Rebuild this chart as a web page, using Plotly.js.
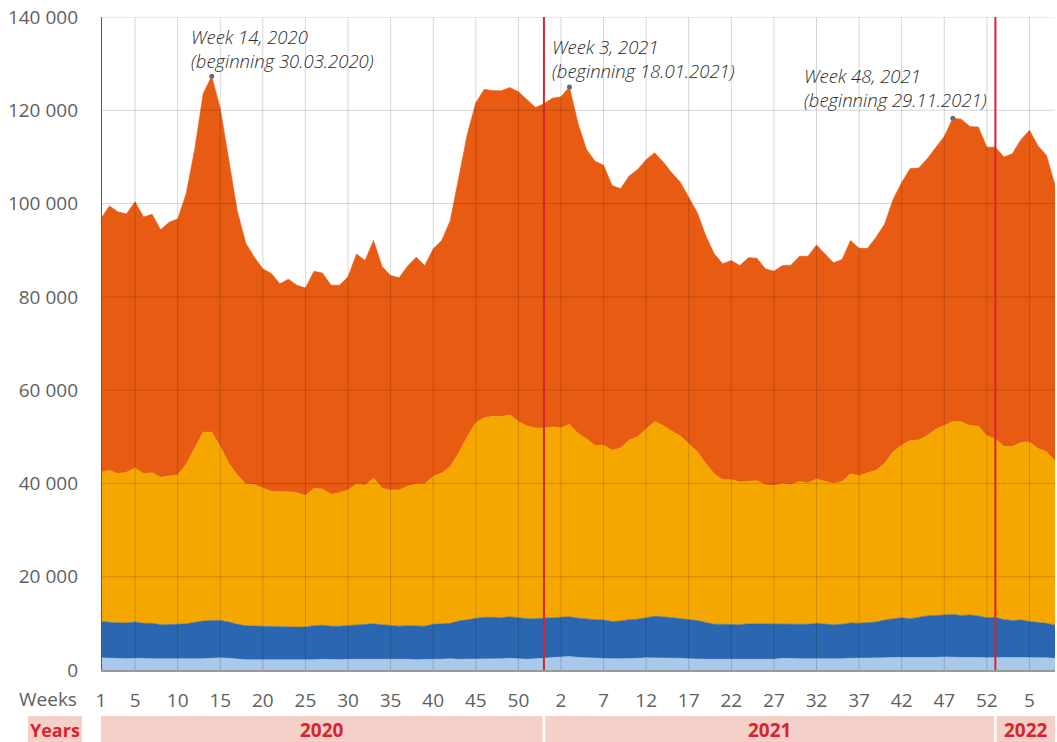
<!DOCTYPE html>
<html>
<head>
<meta charset="utf-8">
<script src="https://cdn.plot.ly/plotly-3.0.1.min.js"></script>
<style>
  html, body { margin: 0; padding: 0; background: #fff; }
  #chart { width: 1057px; height: 742px; }
</style>
</head>
<body>
<div id="chart"></div>
<script>
// ---- Data ----
const years = ["2020", "2021", "2022"];
const yearWeekCounts = [53, 52, 8];
// red year-start marker positions (index of week on the axis)
const yearMarkerIdx = [0, 52, 105];

// Stack boundaries (cumulative tops of each layer)
const lightBlueTop = [
  2600,2500,2400,2400,2500,2400,2400,2400,2400,2400,2400,2300,2400,2500,2600,2500,2300,2200,2200,2200,
  2100,2200,2100,2200,2200,2200,2300,2200,2200,2300,2300,2300,2400,2300,2300,2300,2300,2200,2300,2300,
  2300,2400,2300,2300,2300,2300,2300,2400,2500,2400,2300,2400,2500,
  2600,2800,2900,2700,2600,2500,2400,2400,2400,2400,2500,2600,2600,2500,2500,2500,2400,2300,2300,2300,
  2300,2300,2300,2400,2400,2400,2300,2500,2400,2400,2400,2400,2300,2400,2400,2500,2500,2500,2600,2600,
  2700,2700,2600,2600,2600,2700,2800,2700,2700,2700,2600,2600,
  2700,2700,2700,2600,2600,2600,2600,2500
];
const blueTop = [
  10400,10200,10100,10100,10300,10000,10000,9700,9700,9800,9900,10200,10500,10600,10600,10300,9800,9500,9400,9400,
  9300,9300,9200,9200,9200,9500,9600,9400,9400,9500,9700,9700,9900,9700,9500,9400,9500,9500,9400,9800,
  9900,10000,10500,10800,11000,11300,11300,11200,11400,11200,11000,11000,11100,
  11200,11300,11400,11100,10900,10800,10700,10400,10500,10800,10900,11200,11500,11400,11200,11100,10900,10600,10200,9800,
  9800,9700,9700,9900,9900,9800,9800,9800,9900,9800,9800,10000,9800,9700,9800,10100,10000,10200,10300,10700,
  11000,11200,11000,11300,11600,11700,11800,11900,11700,11800,11600,11200,
  11300,10800,10600,10700,10400,10200,10000,9600
];
const yellowTop = [
  42400,42800,42100,42400,43300,42100,42300,41300,41600,41800,44100,47500,51000,51000,47900,44300,41800,39900,39700,39000,
  38300,38200,38200,38000,37400,38900,38800,37700,38000,38600,39900,39600,41100,39000,38500,38600,39400,39900,39900,41500,
  42200,43600,46600,50000,53000,54100,54400,54300,54700,53300,52300,51900,51900,
  52100,51900,52700,50700,49600,48100,48200,47100,47600,49300,50000,51700,53300,52400,51200,50200,48600,46800,44300,42000,
  40800,40800,40300,40400,40600,39700,39500,40000,39700,40400,40100,40900,40400,40000,40400,42100,41600,42300,42800,44300,
  46800,48200,49200,49300,50300,51600,52400,53300,53200,52400,52300,50200,
  49600,47900,47900,48800,48900,47500,46800,44800
];
const total = [
  96800,99500,98200,97800,100400,97100,97700,94400,96000,96700,102100,111600,123600,127300,120400,109400,98400,91500,88500,86000,
  85000,82800,83800,82500,81900,85500,85100,82500,82500,84300,89200,87800,92100,86500,84600,84100,86600,88500,86700,90300,
  92100,96300,105500,114800,121600,124500,124200,124200,124900,124000,122300,120600,121400,
  122600,122900,125000,117200,111600,109100,108200,103900,103200,105900,107300,109400,110900,108900,106600,104600,101300,98100,93100,89200,
  87100,87800,86700,88400,88300,86000,85500,86700,86800,88700,88700,91100,89200,87300,88000,92100,90400,90400,92800,95600,
  100900,104500,107500,107600,109600,112100,114400,118300,118100,116500,116400,112100,
  112100,110000,110700,113700,115700,112400,110300,104000
];

// Tick labels (week numbers shown on the axis)
const tickWeeks = [
  ["2020", [1,5,10,15,20,25,30,35,40,45,50]],
  ["2021", [2,7,12,17,22,27,32,37,42,47,52]],
  ["2022", [5]]
];
const yTicks = [0,20000,40000,60000,80000,100000,120000,140000];

// Annotated peaks
const annoYear = ["2020", "2021", "2021"];
const annoWeek = [14, 3, 48];
const annoText = [
  "Week 14, 2020<br>(beginning 30.03.2020)",
  "Week 3, 2021<br>(beginning 18.01.2021)",
  "Week 48, 2021<br>(beginning 29.11.2021)"
];

// ---- Build axis positions ----
const yearOffset = {};
let acc = 0;
years.forEach((y, k) => { yearOffset[y] = acc; acc += yearWeekCounts[k]; });
const nPts = acc;
const xs = [];
const weekLabel = [];
years.forEach((y, k) => {
  for (let w = 1; w <= yearWeekCounts[k]; w++) { xs.push(yearOffset[y] + w - 1); weekLabel.push(y + " W" + w); }
});
const tickvals = [], ticktext = [];
tickWeeks.forEach(([y, ws]) => ws.forEach(w => { tickvals.push(yearOffset[y] + w - 1); ticktext.push(String(w)); }));

// ---- Colours / styles ----
const C_LB = "#a9c8ea", C_B = "#2a67b0", C_Y = "#f5a700", C_O = "#e85b13";
const FONT = "Open Sans, Liberation Sans, Arial, sans-serif";
const RED = "#d62430", PINK = "#f5d0c8";

function area(y, color, fill, name) {
  return { x: xs, y: y, type: "scatter", mode: "lines", name: name, text: weekLabel,
           line: { width: 0.6, color: color, shape: "linear" }, fill: fill, fillcolor: color, hoverinfo: "skip" };
}
const traces = [
  area(lightBlueTop, C_LB, "tozeroy", "Layer 1"),
  area(blueTop, C_B, "tonexty", "Layer 2"),
  area(yellowTop, C_Y, "tonexty", "Layer 3"),
  area(total, C_O, "tonexty", "Total")
];
const annoX = annoWeek.map((w, k) => yearOffset[annoYear[k]] + w - 1);
traces.push({ x: annoX, y: annoX.map(i => total[i]), type: "scatter", mode: "markers",
  marker: { size: 5, color: "#6b6b6b" }, hoverinfo: "skip", showlegend: false });

// ---- Shapes: gridlines, red year lines, year bands ----
const shapes = [];
const xmax = nPts - 1;
tickvals.forEach(v => {
  if (yearMarkerIdx.indexOf(v) >= 0) return;
  shapes.push({ type: "line", xref: "x", yref: "paper", x0: v, x1: v, y0: 0, y1: 1,
    line: { color: "rgba(0,0,0,0.16)", width: 1 }, layer: "above" });
});
yTicks.forEach(v => {
  if (v === 0) return;
  shapes.push({ type: "line", xref: "paper", yref: "y", x0: 0, x1: 1, y0: v, y1: v,
    line: { color: "rgba(0,0,0,0.16)", width: 1 }, layer: "above" });
});
yearMarkerIdx.forEach(v => {
  shapes.push({ type: "line", xref: "x", yref: "paper", x0: v, x1: v, y0: 0, y1: 1,
    line: { color: RED, width: 2 }, layer: "above" });
});
// bands
const bandTop = -0.0704, bandBot = -0.115;
const annotations = [];
years.forEach((y, k) => {
  const x0 = yearMarkerIdx[k] + (k > 0 ? 0.15 : 0);
  const x1 = (k < years.length - 1 ? yearMarkerIdx[k + 1] - 0.15 : xmax);
  shapes.push({ type: "rect", xref: "x", yref: "paper", x0: x0, x1: x1, y0: bandBot, y1: bandTop,
    fillcolor: PINK, line: { width: 0 }, layer: "above" });
  annotations.push({ xref: "x", yref: "paper", x: (x0 + x1) / 2, y: (bandTop + bandBot) / 2 + 0.001,
    text: "<b>" + y + "</b>", showarrow: false, xanchor: "center", yanchor: "middle",
    font: { family: FONT, size: 19, color: RED } });
});
shapes.push({ type: "rect", xref: "paper", yref: "paper", x0: -0.0765, x1: -0.0199, y0: bandBot, y1: bandTop,
  fillcolor: PINK, line: { width: 0 } });
annotations.push({ xref: "paper", yref: "paper", x: -0.048, y: (bandTop + bandBot) / 2 + 0.001,
  text: "<b>Years</b>", showarrow: false, xanchor: "center", yanchor: "middle",
  font: { family: FONT, size: 18, color: RED } });
annotations.push({ xref: "paper", yref: "paper", x: -0.0235, y: -0.0444,
  text: "Weeks", showarrow: false, xanchor: "right", yanchor: "middle",
  font: { family: FONT, size: 19, color: "#5f5f5f" } });

const annoShift = [[-23, 1], [-19, 2], [-151, 4]];
annoX.forEach((xi, k) => {
  annotations.push({ xref: "x", yref: "y", x: xi, y: total[xi], text: annoText[k], showarrow: false,
    xanchor: "left", yanchor: "bottom", align: "left", xshift: annoShift[k][0], yshift: annoShift[k][1],
    font: { family: FONT, size: 18.5, color: "#2b2b2b", style: "italic", weight: 300 } });
});

const layout = {
  width: 1057, height: 742,
  margin: { l: 101, r: 2, t: 17, b: 72, pad: 0 },
  paper_bgcolor: "#ffffff", plot_bgcolor: "#ffffff",
  showlegend: false, hovermode: false,
  separators: ". ",
  font: { family: FONT, size: 19, color: "#5f5f5f" },
  xaxis: {
    range: [0, xmax], tickmode: "array", tickvals: tickvals, ticktext: ticktext,
    showgrid: false, zeroline: false, showline: true, linecolor: "#9a9a9a", linewidth: 2,
    ticks: "", ticklabelstandoff: 12, tickfont: { family: FONT, size: 19, color: "#5f5f5f" },
    layer: "above traces", fixedrange: true
  },
  yaxis: {
    range: [0, 140000], tickmode: "array", tickvals: yTicks, tickformat: ",d",
    showgrid: false, zeroline: false, showline: false, ticks: "", ticklabelstandoff: 22,
    tickfont: { family: FONT, size: 19, color: "#5f5f5f" }, fixedrange: true
  },
  shapes: shapes,
  annotations: annotations
};

Plotly.newPlot("chart", traces, layout, { displayModeBar: false, staticPlot: true });
</script>
</body>
</html>
